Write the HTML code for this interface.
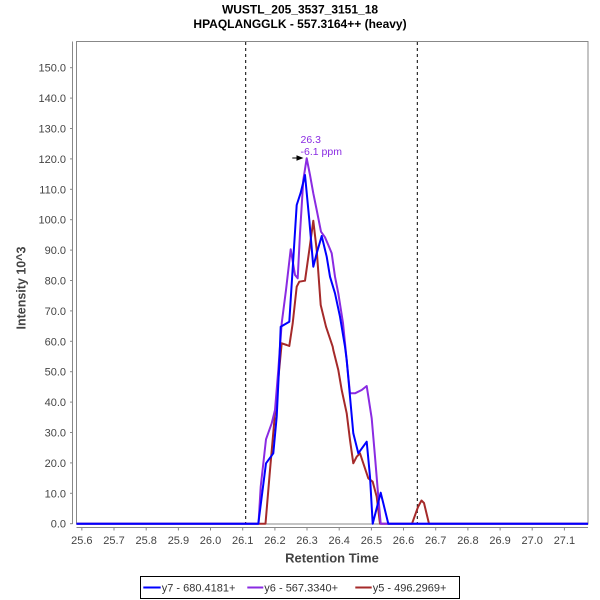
<!DOCTYPE html>
<html>
<head>
<meta charset="utf-8">
<style>
  html,body{margin:0;padding:0;background:#fff;}
  svg{display:block;}
  text{font-family:"Liberation Sans","DejaVu Sans",sans-serif;}
</style>
</head>
<body>
<svg width="600" height="600" viewBox="0 0 600 600" xmlns="http://www.w3.org/2000/svg">
  <rect x="0" y="0" width="600" height="600" fill="#fff"/>

  <!-- Title -->
  <text x="300" y="13.5" text-anchor="middle" font-size="12" font-weight="bold" fill="#000">WUSTL_205_3537_3151_18</text>
  <text x="300" y="28" text-anchor="middle" font-size="12" font-weight="bold" fill="#000">HPAQLANGGLK - 557.3164++ (heavy)</text>

  <!-- Plot area border -->
  <rect x="76.5" y="41.5" width="511.5" height="482.5" fill="#fff" stroke="#888" stroke-width="1"/>

  <!-- Y axis line + ticks -->
  <line x1="72.5" y1="41.5" x2="72.5" y2="524" stroke="#888" stroke-width="1"/>
  <g stroke="#888" stroke-width="1">
    <line x1="70" y1="523.7" x2="72.5" y2="523.7"/>
    <line x1="70" y1="493.3" x2="72.5" y2="493.3"/>
    <line x1="70" y1="462.9" x2="72.5" y2="462.9"/>
    <line x1="70" y1="432.5" x2="72.5" y2="432.5"/>
    <line x1="70" y1="402.1" x2="72.5" y2="402.1"/>
    <line x1="70" y1="371.7" x2="72.5" y2="371.7"/>
    <line x1="70" y1="341.3" x2="72.5" y2="341.3"/>
    <line x1="70" y1="310.9" x2="72.5" y2="310.9"/>
    <line x1="70" y1="280.5" x2="72.5" y2="280.5"/>
    <line x1="70" y1="250.1" x2="72.5" y2="250.1"/>
    <line x1="70" y1="219.7" x2="72.5" y2="219.7"/>
    <line x1="70" y1="189.3" x2="72.5" y2="189.3"/>
    <line x1="70" y1="158.9" x2="72.5" y2="158.9"/>
    <line x1="70" y1="128.5" x2="72.5" y2="128.5"/>
    <line x1="70" y1="98.1" x2="72.5" y2="98.1"/>
    <line x1="70" y1="67.7" x2="72.5" y2="67.7"/>
  </g>
  <g font-size="11" fill="#444" text-anchor="end">
    <text x="66" y="527.7">0.0</text>
    <text x="66" y="497.3">10.0</text>
    <text x="66" y="466.9">20.0</text>
    <text x="66" y="436.5">30.0</text>
    <text x="66" y="406.1">40.0</text>
    <text x="66" y="375.7">50.0</text>
    <text x="66" y="345.3">60.0</text>
    <text x="66" y="314.9">70.0</text>
    <text x="66" y="284.5">80.0</text>
    <text x="66" y="254.1">90.0</text>
    <text x="66" y="223.7">100.0</text>
    <text x="66" y="193.3">110.0</text>
    <text x="66" y="162.9">120.0</text>
    <text x="66" y="132.5">130.0</text>
    <text x="66" y="102.1">140.0</text>
    <text x="66" y="71.7">150.0</text>
  </g>

  <!-- X axis line + ticks -->
  <line x1="76.5" y1="527.5" x2="588" y2="527.5" stroke="#888" stroke-width="1"/>
  <g stroke="#888" stroke-width="1">
    <line x1="81.85" y1="527.5" x2="81.85" y2="530.5"/>
    <line x1="114.0" y1="527.5" x2="114.0" y2="530.5"/>
    <line x1="146.2" y1="527.5" x2="146.2" y2="530.5"/>
    <line x1="178.4" y1="527.5" x2="178.4" y2="530.5"/>
    <line x1="210.5" y1="527.5" x2="210.5" y2="530.5"/>
    <line x1="242.7" y1="527.5" x2="242.7" y2="530.5"/>
    <line x1="274.9" y1="527.5" x2="274.9" y2="530.5"/>
    <line x1="307.0" y1="527.5" x2="307.0" y2="530.5"/>
    <line x1="339.2" y1="527.5" x2="339.2" y2="530.5"/>
    <line x1="371.4" y1="527.5" x2="371.4" y2="530.5"/>
    <line x1="403.5" y1="527.5" x2="403.5" y2="530.5"/>
    <line x1="435.7" y1="527.5" x2="435.7" y2="530.5"/>
    <line x1="467.9" y1="527.5" x2="467.9" y2="530.5"/>
    <line x1="500.1" y1="527.5" x2="500.1" y2="530.5"/>
    <line x1="532.2" y1="527.5" x2="532.2" y2="530.5"/>
    <line x1="564.4" y1="527.5" x2="564.4" y2="530.5"/>
  </g>
  <g font-size="11" fill="#444" text-anchor="middle">
    <text x="81.85" y="544">25.6</text>
    <text x="114.0" y="544">25.7</text>
    <text x="146.2" y="544">25.8</text>
    <text x="178.4" y="544">25.9</text>
    <text x="210.5" y="544">26.0</text>
    <text x="242.7" y="544">26.1</text>
    <text x="274.9" y="544">26.2</text>
    <text x="307.0" y="544">26.3</text>
    <text x="339.2" y="544">26.4</text>
    <text x="371.4" y="544">26.5</text>
    <text x="403.5" y="544">26.6</text>
    <text x="435.7" y="544">26.7</text>
    <text x="467.9" y="544">26.8</text>
    <text x="500.1" y="544">26.9</text>
    <text x="532.2" y="544">27.0</text>
    <text x="564.4" y="544">27.1</text>
  </g>

  <!-- Axis labels -->
  <text x="332" y="562.5" text-anchor="middle" font-size="13" font-weight="bold" fill="#444">Retention Time</text>
  <text transform="translate(25.5,288) rotate(-90)" text-anchor="middle" font-size="12.5" font-weight="bold" fill="#444">Intensity 10^3</text>

  <!-- Dashed integration boundaries -->
  <line x1="245.7" y1="42" x2="245.7" y2="524" stroke="#000" stroke-width="1" stroke-dasharray="3,3"/>
  <line x1="417.3" y1="42" x2="417.3" y2="524" stroke="#000" stroke-width="1" stroke-dasharray="3,3"/>

  <!-- Series: y5 (brown) -->
  <polyline fill="none" stroke="#A52A2A" stroke-width="2" stroke-linejoin="round"
    points="76.5,523.7 265.5,523.7 270,470 275,413.3 281.7,343.3 286.7,345 289.3,346 292.7,323.3 296.7,286.7 299.3,281.7 305,280.7 309.3,250 313.3,220.7 316.7,250 320.7,305 326,326.7 332.7,346.7 333.3,350 338.3,370 341.7,390 346.7,413.3 350,440 353.3,463.3 356.7,456.7 360,453.3 363.3,463.3 368.3,478.3 372.7,481.7 376.7,496.7 380,523.7 412,523.7 418,507 421.5,500.5 424,503 429,523.7 588,523.7"/>

  <!-- Series: y6 (blueviolet) -->
  <polyline fill="none" stroke="#8A2BE2" stroke-width="2" stroke-linejoin="round"
    points="76.5,523.7 258.5,523.7 260.7,486.7 266,439.3 271.7,423.3 275,410 278.3,370 281.7,323.3 286,290 290.7,249.3 295,275 297.7,278.3 300,233.3 303.3,180 306.7,158.3 310,175 313.3,193.3 316.7,210 321,231.7 325,237.3 328.3,245 331.7,253.3 335,276.7 338.3,293.3 343,323 350,393.3 355,393.3 361.7,390 366.7,386 371.7,418.3 375,456.7 378.3,496.7 380.7,523.7 588,523.7"/>

  <!-- Series: y7 (blue) -->
  <polyline fill="none" stroke="#0000FF" stroke-width="2" stroke-linejoin="round"
    points="76.5,523.7 258.3,523.7 266,463.3 273.3,453.3 276.7,416.7 279.3,363.3 280.7,326.7 289.3,321.7 296.7,205 300.7,192.7 305,175 309.3,220 313.3,266.7 316.7,253.3 321.7,236 326.7,256.7 330,276.7 335,293.3 340,316.7 345,346.7 346.7,360 350,396.7 353.3,433.3 358.3,453.3 366.7,441.7 370,476.7 372.7,523.7 380.7,492.7 383.3,503.3 388.3,523.7 588,523.7"/>

  <!-- Peak annotation -->
  <text x="300.5" y="143" font-size="10.5" fill="#8A2BE2">26.3</text>
  <text x="300.5" y="155" font-size="10.5" fill="#8A2BE2">-6.1 ppm</text>
  <line x1="292.3" y1="158" x2="298" y2="158" stroke="#000" stroke-width="1"/>
  <polygon points="296.5,155.3 303.5,158 296.5,160.7" fill="#000"/>

  <!-- Legend -->
  <rect x="140.5" y="576.5" width="319" height="22" fill="#fff" stroke="#000" stroke-width="1"/>
  <line x1="143.3" y1="587.5" x2="160.7" y2="587.5" stroke="#0000FF" stroke-width="2"/>
  <text x="161.7" y="591.5" font-size="11" fill="#333">y7 - 680.4181+</text>
  <line x1="247.3" y1="587.5" x2="263.3" y2="587.5" stroke="#8A2BE2" stroke-width="2"/>
  <text x="264.3" y="591.5" font-size="11" fill="#333">y6 - 567.3340+</text>
  <line x1="355.3" y1="587.5" x2="371.7" y2="587.5" stroke="#A52A2A" stroke-width="2"/>
  <text x="372.7" y="591.5" font-size="11" fill="#333">y5 - 496.2969+</text>
</svg>
</body>
</html>
